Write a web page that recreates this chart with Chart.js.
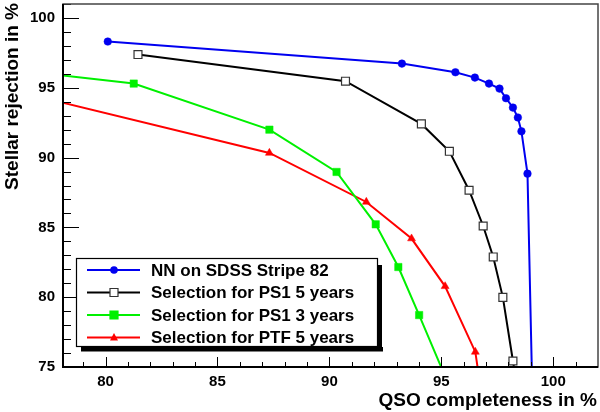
<!DOCTYPE html>
<html><head><meta charset="utf-8">
<script src="https://cdn.jsdelivr.net/npm/chart.js@4/dist/chart.umd.min.js"></script>
<style>html,body{margin:0;padding:0;background:#fff}#wrap{width:600px;height:412px;position:relative}</style>
</head><body><div id="wrap"><canvas id="c"></canvas></div>
<script>
// ---- data ----
const seriesNames = ["NN on SDSS Stripe 82","Selection for PS1 5 years","Selection for PS1 3 years","Selection for PTF 5 years"];
const nnX  = [80.10, 93.24, 95.63, 96.50, 97.13, 97.60, 97.89, 98.20, 98.42, 98.58, 98.85, 99.11];
const nnY  = [98.31, 96.73, 96.11, 95.73, 95.30, 94.94, 94.25, 93.58, 92.87, 91.88, 88.85, 70.00];
const ps5X = [81.45, 90.72, 94.11, 95.36, 96.24, 96.87, 97.32, 97.75, 98.20, 98.45];
const ps5Y = [97.38, 95.47, 92.41, 90.45, 87.66, 85.10, 82.88, 79.99, 75.43, 73.00];
const ps3X = [76.00, 81.26, 87.32, 90.32, 92.07, 93.08, 94.01, 95.52];
const ps3Y = [96.26, 95.30, 92.00, 88.97, 85.22, 82.16, 78.72, 73.00];
const ptfX = [76.00, 87.32, 91.65, 93.67, 95.17, 96.52, 96.80];
const ptfY = [94.74, 90.33, 86.82, 84.20, 80.78, 76.08, 73.00];
const xTicks = [80, 85, 90, 95, 100];
const yTicks = [75, 80, 85, 90, 95, 100];
const xTitle = "QSO completeness in %";
const yTitle = "Stellar rejection in %";

const colors = ["#0000f0", "#000000", "#00f000", "#ff0000"];
const styles = ["circle", "rect", "rect", "triangle"];
const fills  = ["#0000f0", "#ffffff", "#00f000", "#ff0000"];
const strokes= ["#0000f0", "#333333", "#00f000", "#ff0000"];
const radii  = [3.8, 5.6, 5.2, 4.6];

function pts(xs, ys){ return xs.map((x,i)=>({x:x, y:ys[i]})); }
const allData = [pts(nnX,nnY), pts(ps5X,ps5Y), pts(ps3X,ps3Y), pts(ptfX,ptfY)];

const FONT = "'Liberation Sans', Arial, Helvetica, sans-serif";

const decor = {
  id: 'decor',
  afterDraw(chart){
    const ctx = chart.ctx, a = chart.chartArea;
    const xs = chart.scales.x, ys = chart.scales.y;
    ctx.save();
    ctx.strokeStyle = '#000';
    // minor & major ticks
    ctx.lineWidth = 1;
    ctx.beginPath();
    for (let v = 76; v <= 101; v++) {
      const p = ys.getPixelForValue(v);
      if (p < a.top || p > a.bottom) continue;
      const len = (v % 5 === 0) ? 16 : 8;
      ctx.moveTo(a.left, Math.round(p)+0.5); ctx.lineTo(a.left+len, Math.round(p)+0.5);
    }
    for (let v = 79; v <= 101; v++) {
      const p = xs.getPixelForValue(v);
      if (p < a.left || p > a.right) continue;
      const len = (v % 5 === 0) ? 10 : 5;
      ctx.moveTo(Math.round(p)+0.5, a.bottom); ctx.lineTo(Math.round(p)+0.5, a.bottom-len);
    }
    ctx.stroke();
    // frame
    ctx.strokeStyle = '#444';
    ctx.lineWidth = 1.5;
    ctx.strokeRect(a.left, a.top, a.right-a.left, a.bottom-a.top);
    ctx.strokeStyle = '#000';
    ctx.lineWidth = 2;
    ctx.beginPath();
    ctx.moveTo(a.left, a.top); ctx.lineTo(a.left, a.bottom); ctx.lineTo(a.right, a.bottom);
    ctx.stroke();

    // axis titles
    ctx.fillStyle = '#000';
    ctx.font = "bold 19px " + FONT;
    ctx.textAlign = 'right';
    ctx.textBaseline = 'alphabetic';
    ctx.fillText(xTitle, 597, 406);
    ctx.save();
    ctx.translate(18, 3);
    ctx.rotate(-Math.PI/2);
    ctx.textAlign = 'right';
    ctx.fillText(yTitle, 0, 0);
    ctx.restore();

    // legend
    const L = 76, T = 258, R = 378, B = 347;
    ctx.fillStyle = '#000';
    ctx.fillRect(L+5, B, R-L, 4.5);
    ctx.fillRect(R, T+7, 4, B-T-3);
    ctx.fillStyle = '#fff';
    ctx.fillRect(L, T, R-L, B-T);
    ctx.strokeStyle = '#000';
    ctx.lineWidth = 1.2;
    ctx.strokeRect(L+0.5, T+0.5, R-L-1, B-T-1);
    const rows = [270, 292.5, 315, 337.5];
    ctx.font = "bold 17px " + FONT;
    ctx.textAlign = 'left';
    ctx.textBaseline = 'middle';
    chart.data.datasets.forEach((ds, i) => {
      const y = rows[i];
      ctx.strokeStyle = colors[i];
      ctx.lineWidth = 2;
      ctx.beginPath(); ctx.moveTo(87, y); ctx.lineTo(140, y); ctx.stroke();
      const mx = 114;
      ctx.fillStyle = fills[i];
      ctx.strokeStyle = strokes[i];
      ctx.lineWidth = 1.2;
      ctx.beginPath();
      if (styles[i] === 'circle') { ctx.arc(mx, y, 3.8, 0, Math.PI*2); ctx.fill(); }
      else if (styles[i] === 'rect') { ctx.rect(mx-4, y-4, 8, 8); ctx.fill(); ctx.stroke(); }
      else { ctx.moveTo(mx, y-4.5); ctx.lineTo(mx+4, y+3); ctx.lineTo(mx-4, y+3); ctx.closePath(); ctx.fill(); }
      ctx.fillStyle = '#000';
      ctx.fillText(ds.label, 151, y+1);
    });
    ctx.restore();
  }
};

function noPad(s){ s.paddingTop = 0; s.paddingBottom = 0; s.paddingLeft = 0; s.paddingRight = 0; }

new Chart(document.getElementById('c'), {
  type: 'line',
  data: {
    datasets: allData.map((d, i) => ({
      label: seriesNames[i],
      data: d,
      borderColor: colors[i],
      backgroundColor: fills[i],
      borderWidth: 2,
      pointStyle: styles[i],
      pointRadius: radii[i],
      pointHoverRadius: radii[i],
      pointBackgroundColor: fills[i],
      pointBorderColor: strokes[i],
      pointBorderWidth: i === 1 ? 1.2 : 0.5,
      tension: 0,
      fill: false,
      clip: 0
    }))
  },
  options: {
    responsive: true,
    maintainAspectRatio: false,
    animation: false,
    events: [],
    layout: { autoPadding: false, padding: { top: 4, right: 2, left: 0, bottom: 0 } },
    plugins: { legend: { display: false }, tooltip: { enabled: false } },
    scales: {
      x: {
        type: 'linear', min: 78.1, max: 102,
        grid: { display: false, drawTicks: false },
        border: { display: false },
        afterBuildTicks: s => { s.ticks = xTicks.map(v => ({ value: v })); },
        afterFit: s => { s.height = 45; noPad(s); },
        ticks: { padding: 6, color: '#000', font: { family: FONT, size: 15, weight: 'bold' }, maxRotation: 0, callback: v => String(v) }
      },
      y: {
        type: 'linear', min: 75, max: 101,
        grid: { display: false, drawTicks: false },
        border: { display: false },
        afterBuildTicks: s => { s.ticks = yTicks.map(v => ({ value: v })); },
        afterFit: s => { s.width = 63; noPad(s); },
        ticks: { padding: 8, color: '#000', font: { family: FONT, size: 15, weight: 'bold' }, callback: v => String(v) }
      }
    }
  },
  plugins: [decor]
});
</script>
</body></html>
